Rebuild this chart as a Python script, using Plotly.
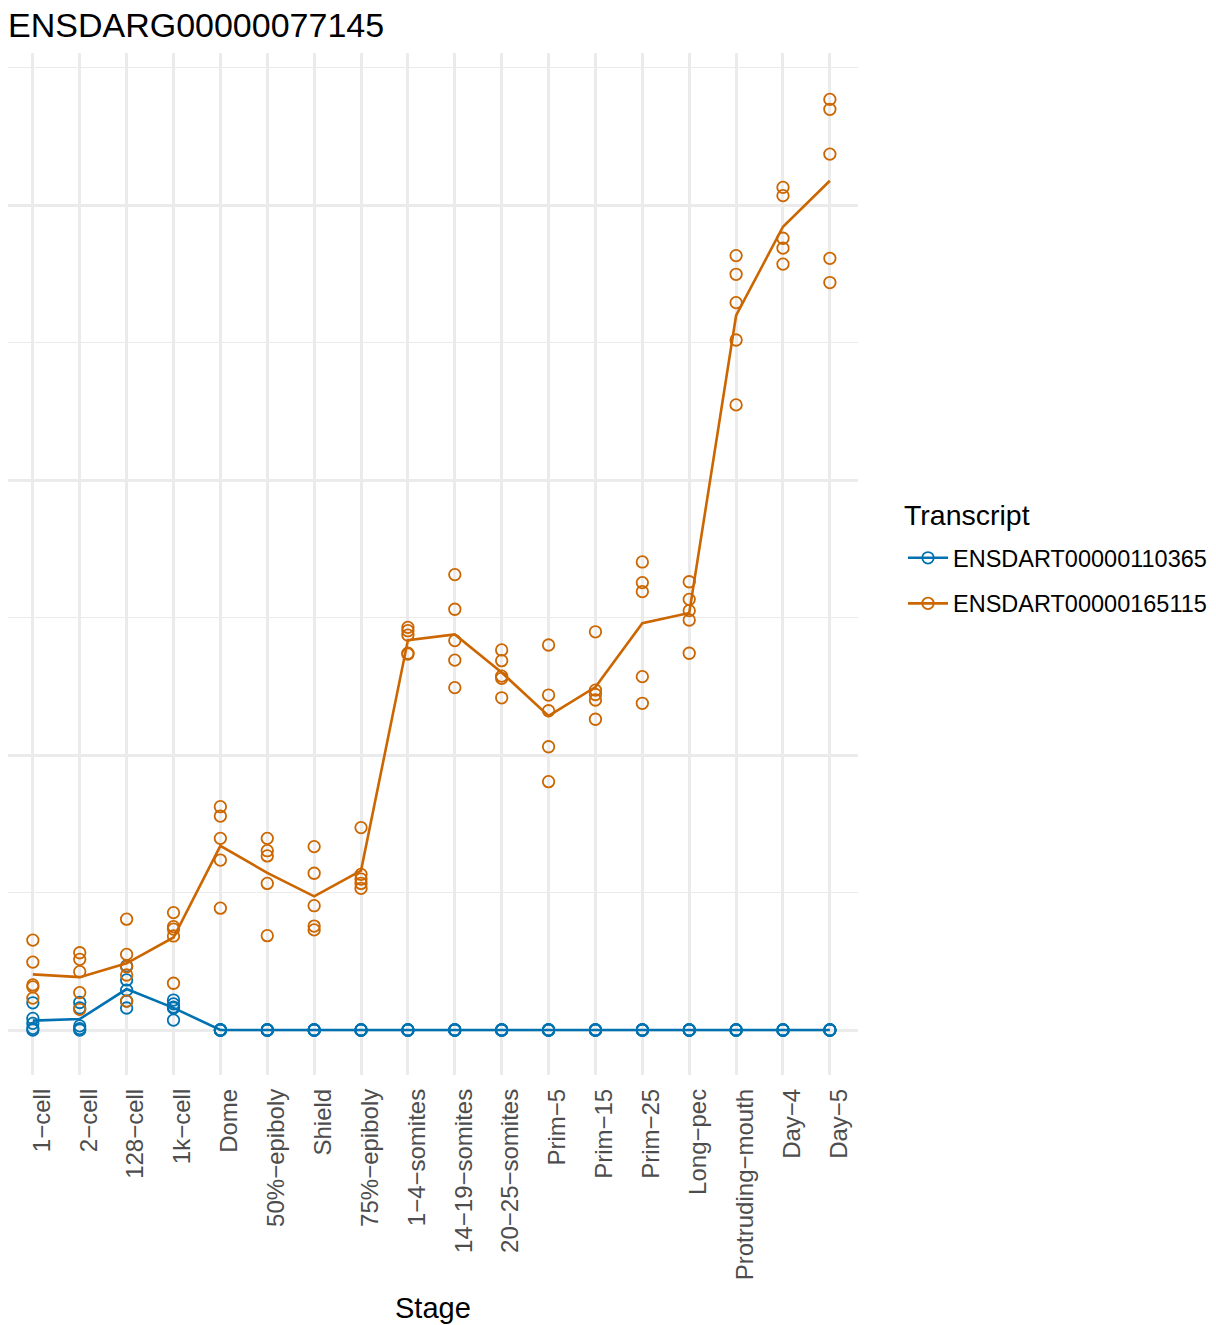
import numpy as np
import plotly.graph_objects as go

title = "ENSDARG00000077145"
stages = ["1\u2212cell", "2\u2212cell", "128\u2212cell", "1k\u2212cell", "Dome", "50%\u2212epiboly",
          "Shield", "75%\u2212epiboly", "1\u22124\u2212somites", "14\u221219\u2212somites",
          "20\u221225\u2212somites", "Prim\u22125", "Prim\u221215", "Prim\u221225", "Long\u2212pec",
          "Protruding\u2212mouth", "Day\u22124", "Day\u22125"]

transcripts = ["ENSDART00000110365", "ENSDART00000165115"]

# replicate values per stage (5 replicates)
t110365 = [
    [0.099, 0.042, 0.024, 0.006, 0.0],
    [0.100, 0.080, 0.015, 0.005, 0.0],
    [0.233, 0.182, 0.145, 0.105, 0.080],
    [0.109, 0.095, 0.083, 0.080, 0.036],
    [0.0, 0.0, 0.0, 0.0, 0.0],
    [0.0, 0.0, 0.0, 0.0, 0.0],
    [0.0, 0.0, 0.0, 0.0, 0.0],
    [0.0, 0.0, 0.0, 0.0, 0.0],
    [0.0, 0.0, 0.0, 0.0, 0.0],
    [0.0, 0.0, 0.0, 0.0, 0.0],
    [0.0, 0.0, 0.0, 0.0, 0.0],
    [0.0, 0.0, 0.0, 0.0, 0.0],
    [0.0, 0.0, 0.0, 0.0, 0.0],
    [0.0, 0.0, 0.0, 0.0, 0.0],
    [0.0, 0.0, 0.0, 0.0, 0.0],
    [0.0, 0.0, 0.0, 0.0, 0.0],
    [0.0, 0.0, 0.0, 0.0, 0.0],
    [0.0, 0.0, 0.0, 0.0, 0.0],
]
t165115 = [
    [0.327, 0.247, 0.164, 0.157, 0.116],
    [0.281, 0.257, 0.212, 0.136, 0.075],
    [0.403, 0.275, 0.230, 0.200, 0.105],
    [0.427, 0.376, 0.367, 0.342, 0.170],
    [0.812, 0.778, 0.697, 0.618, 0.443],
    [0.697, 0.652, 0.633, 0.533, 0.343],
    [0.667, 0.570, 0.452, 0.378, 0.364],
    [0.736, 0.566, 0.549, 0.533, 0.515],
    [1.464, 1.452, 1.436, 1.370, 1.367],
    [1.656, 1.530, 1.416, 1.345, 1.245],
    [1.382, 1.343, 1.287, 1.279, 1.208],
    [1.400, 1.218, 1.161, 1.030, 0.903],
    [1.448, 1.236, 1.220, 1.200, 1.130],
    [1.702, 1.627, 1.594, 1.285, 1.188],
    [1.630, 1.566, 1.525, 1.491, 1.370],
    [2.816, 2.748, 2.645, 2.509, 2.273],
    [3.064, 3.034, 2.879, 2.843, 2.785],
    [3.384, 3.348, 3.185, 2.806, 2.718],
]
colors = ["#0072B2", "#CC6600"]

fig = go.Figure()
for name, reps, col in zip(transcripts, [t110365, t165115], colors):
    xs = [s for s, r in zip(stages, reps) for _ in r]
    ys = [v for r in reps for v in r]
    means = [float(np.mean(r)) for r in reps]
    fig.add_trace(go.Scatter(
        x=stages, y=means, mode="lines", name=name, legendgroup=name,
        line=dict(color=col, width=2.6), showlegend=False, hoverinfo="skip"))
    fig.add_trace(go.Scatter(
        x=xs, y=ys, mode="markers", name=name, legendgroup=name, showlegend=False,
        marker=dict(symbol="circle-open", size=11.5, color=col, line=dict(width=1.8, color=col))))
    # legend entry
    fig.add_trace(go.Scatter(
        x=[None], y=[None], mode="lines+markers", name=name, legendgroup=name,
        line=dict(color=col, width=2.6),
        marker=dict(symbol="circle-open", size=11.5, color=col, line=dict(width=1.8, color=col))))

# page is offset by the 8px body margin; figure coordinates = page - 8
W, H = 1200, 1317
px_left, px_right, px_top, px_bot = 0, 850, 45, 1067
ml, mr, mt, mb = px_left, W - px_right, px_top, H - px_bot
pw, ph = px_right - px_left, px_bot - px_top

fig.update_layout(
    width=W, height=H,
    margin=dict(l=ml, r=mr, t=mt, b=mb, autoexpand=False),
    paper_bgcolor="white", plot_bgcolor="white",
    font=dict(family="Liberation Sans, Arial, sans-serif", color="black"),
    title=dict(text=title, x=0, xanchor="left", xref="container",
               y=1 - 17 / H, yanchor="middle", yref="container",
               font=dict(size=34, color="black")),
    showlegend=True,
    legend=dict(font=dict(size=23.5, color="black"),
                x=(895 - px_left) / pw, xanchor="left",
                y=1 - (528 - px_top) / ph, yanchor="top",
                bgcolor="rgba(0,0,0,0)", itemwidth=40, tracegroupgap=12),
    xaxis=dict(type="category", categoryorder="array", categoryarray=stages,
               range=[-0.53, len(stages) - 0.4], showgrid=True, gridcolor="#EBEBEB",
               gridwidth=2.5, zeroline=False, showline=False, ticks="",
               tickangle=-90, tickfont=dict(size=24, color="#4D4D4D"),
               ticklabelstandoff=8, ticklabelshift=9),
    yaxis=dict(range=[-0.1636, 3.5527], showgrid=True, gridcolor="#EBEBEB", gridwidth=2.5,
               dtick=1, tick0=0, zeroline=False, showline=False, showticklabels=False,
               ticks="",
               minor=dict(dtick=0.5, tick0=0, showgrid=True, gridcolor="#EBEBEB", gridwidth=1.3)),
    annotations=[
        dict(text="Transcript", xref="paper", yref="paper",
             x=(894 - px_left) / pw, y=1 - (507 - px_top) / ph,
             xanchor="left", yanchor="middle", showarrow=False,
             font=dict(size=28.5, color="black")),
        dict(text="Stage", xref="paper", yref="paper",
             x=0.5, y=1 - (1300 - px_top) / ph,
             xanchor="center", yanchor="middle", showarrow=False,
             font=dict(size=29, color="black")),
    ],
)

fig.write_html("out.html")
